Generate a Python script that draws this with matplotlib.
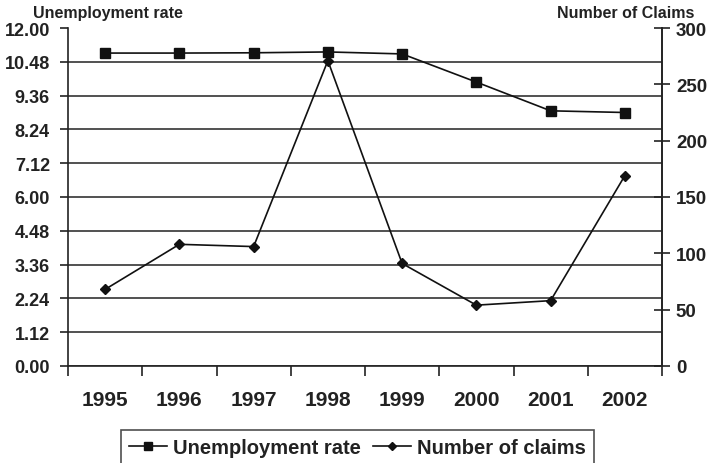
import numpy as np
import matplotlib
matplotlib.use("Agg")
import matplotlib.pyplot as plt

plt.rcParams['font.family'] = ['Liberation Sans', 'DejaVu Sans']
plt.rcParams['font.weight'] = 'bold'

# data
years = ['1995', '1996', '1997', '1998', '1999', '2000', '2001', '2002']
unemployment = [11.11, 11.11, 11.12, 11.15, 11.08, 10.08, 9.06, 9.0]
claims = [68, 108, 106, 271, 91, 54, 58, 169]
left_labels = ['0.00', '1.12', '2.24', '3.36', '4.48', '6.00', '7.12', '8.24', '9.36', '10.48', '12.00']
right_ticks = [0, 50, 100, 150, 200, 250, 300]

fig = plt.figure(figsize=(7.09, 4.64), dpi=100)
ax = fig.add_axes([68 / 709, 1 - 367 / 464, (662 - 68) / 709, (367 - 29) / 464])
ax2 = ax.twinx()

x = np.arange(len(years))

ax.set_xlim(-0.5, len(years) - 0.5)
ax.set_ylim(0, 12)
ax.set_yticks(np.linspace(0, 12, len(left_labels)))
ax.set_yticklabels(left_labels, fontweight='bold')
ax.set_xticks(x)
ax.set_xticklabels(years, fontweight='bold')
ax.set_xticks(np.arange(len(years) + 1) - 0.5, minor=True)

# bottom ticks sit between the categories
ax.tick_params(axis='x', which='major', length=0, pad=17, labelsize=15)
ax.tick_params(axis='x', which='minor', length=7, width=1.2, direction='out', color='#222')
ax.tick_params(axis='y', length=6, width=1.2, direction='out', pad=7, labelsize=13, color='#222')

ax.yaxis.grid(True, color='#222', linewidth=1.1)
ax.get_ygridlines()[-1].set_visible(False)
ax.set_axisbelow(True)

ax.spines['top'].set_visible(False)
ax2.spines['top'].set_visible(False)
for sp in ['left', 'bottom', 'right']:
    ax.spines[sp].set_linewidth(1.2)
    ax.spines[sp].set_color('#222')
ax2.spines['right'].set_linewidth(1.2)
ax2.spines['right'].set_color('#222')
ax2.spines['left'].set_visible(False)
ax2.spines['bottom'].set_visible(False)

ax2.set_ylim(0, 300)
ax2.set_yticks(right_ticks)
ax2.set_yticklabels([str(v) for v in right_ticks], fontweight='bold')
ax2.tick_params(axis='y', length=12, width=1.2, direction='inout', pad=4, labelsize=13.5, color='#222')

l1, = ax.plot(x, unemployment, color='#111', linewidth=1.2, marker='s', markersize=6.5,
              label='Unemployment rate')
l2, = ax2.plot(x, claims, color='#111', linewidth=1.2, marker='D', markersize=5.5,
               label='Number of claims')

fig.text(33 / 709, 1 - 18 / 464, 'Unemployment rate', fontsize=11.5, fontweight='bold',
         color='#222', va='baseline', ha='left')
fig.text(694 / 709, 1 - 18 / 464, 'Number of Claims', fontsize=11.5, fontweight='bold',
         color='#222', va='baseline', ha='right')

leg = fig.legend(handles=[l1, l2], loc='upper left', bbox_to_anchor=(120.7 / 709, 1 - 430.7 / 464),
                 borderaxespad=0, ncol=2, frameon=True, fancybox=False,
                 prop={'size': 14.5, 'weight': 'bold'},
                 handlelength=1.9, handletextpad=0.3, columnspacing=0.6, markerscale=0.8,
                 borderpad=0.4)
leg.get_frame().set_edgecolor('#222')
leg.get_frame().set_linewidth(1.2)
for t in leg.get_texts():
    t.set_color('#222')

for lab in ax.get_xticklabels() + ax.get_yticklabels() + ax2.get_yticklabels():
    lab.set_color('#222')
    lab.set_fontweight('bold')

fig.savefig('out.png', dpi=100)
